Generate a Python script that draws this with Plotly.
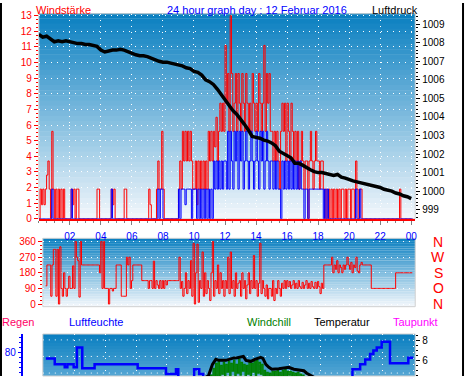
import plotly.graph_objects as go

# ---------------- data ----------------
# wind gust (red) and average (blue), 5-minute samples starting 00:00
gust = (
    [0, 1.9, 0.9, 1.9, 0.9, 1.9, 2.8, 3.7, 1.9, 0, 5.6, 1.9] +
    [0, 1.9, 0, 1.9, 0, 1.9, 0, 1.9, 0, 0, 0, 0] +
    [0, 1.9, 0.9, 1.9, 0, 1.9, 1.9, 0, 0, 0, 0, 0] +
    [0, 0, 0, 0, 0, 0, 0, 0, 0, 1.9, 1.9, 0] +
    [0, 0, 0, 0, 0, 0, 0, 0, 1.9, 0.9, 1.9, 0] +
    [0, 0, 0, 0, 0, 0, 1.9, 1.9, 0, 0, 0, 0] +
    [0, 0, 0, 0, 0, 0, 0, 0, 0, 0, 0, 0] +
    [0, 1.9, 0.9, 0, 0, 0, 0, 1.9, 3.7, 1.9, 1.9, 5.6] +
    [1.9, 0, 0, 0, 0, 0, 0, 0, 0, 0, 0, 0] +
    [1.9, 3.7, 1.9, 5.6, 3.7, 5.6, 3.7, 5.6, 3.7, 5.6, 3.7, 1.9] +
    [1.9, 3.7, 0.9, 3.7, 1.9, 3.7, 1.9, 3.7, 1.9, 3.7, 1.9, 5.6] +
    [3.7, 5.6, 3.7, 5.6, 4.6, 6.5, 3.7, 5.6, 7.4, 5.6, 7.4, 5.6] +
    [11.1, 7.4, 9.3, 5.6, 13.0, 9.3, 5.6, 7.4, 9.3, 5.6, 9.3, 7.4] +
    [5.6, 9.3, 7.4, 5.6, 9.3, 7.4, 5.6, 7.4, 5.6, 9.3, 7.4, 5.6] +
    [7.4, 5.6, 9.3, 7.4, 5.6, 7.4, 11.1, 5.6, 9.3, 7.4, 9.3, 5.6] +
    [5.6, 3.7, 5.6, 3.7, 5.6, 3.7, 1.9, 5.6, 7.4, 5.6, 7.4, 3.7] +
    [7.4, 5.6, 3.7, 7.4, 5.6, 3.7, 5.6, 3.7, 5.6, 1.9, 3.7, 5.6] +
    [3.7, 1.9, 3.7, 3.7, 0, 3.7, 5.6, 3.7, 1.9, 3.7, 5.6, 3.7] +
    [3.7, 1.9, 3.7, 3.7, 1.9, 0, 1.9, 0, 1.9, 0, 1.9, 0] +
    [1.9, 0, 1.9, 0, 1.9, 0, 1.9, 1.9, 0, 1.9, 0, 1.9] +
    [1.9, 0, 1.9, 1.9, 0, 3.7, 1.9, 0, 1.9, 1.9, 0, 0] +
    [0, 0, 0, 0, 0, 0, 0, 0, 0, 0, 0, 0] +
    [0, 0, 0, 0, 0, 0, 0, 0, 0, 0, 0, 0] +
    [0, 0, 0, 1.9, 0, 0, 0, 0, 0, 0, 0, 0] + [0, 0]
)
avg = (
    [0, 0, 0, 0, 0, 0, 0, 0, 0, 0, 1.9, 0] +
    [0] * 12 +
    [0, 1.9, 0, 0, 0, 0, 0, 0, 0, 0, 0, 0] +
    [0] * 12 +
    [0, 0, 0, 0, 0, 0, 0, 0, 1.9, 0, 0, 0] +
    [0] * 12 +
    [0] * 12 +
    [0, 0, 0, 0, 0, 0, 0, 0, 1.9, 0, 1.9, 1.9] +
    [0] * 12 +
    [1.9, 0, 1.9, 1.9, 1.9, 0.9, 1.9, 1.9, 1.9, 1.9, 0, 1.9] +
    [1.9, 1.9, 0, 1.9, 0, 1.9, 0, 1.9, 0, 1.9, 0, 1.9] +
    [0, 1.9, 0, 3.7, 1.9, 3.7, 1.9, 3.7, 1.9, 3.7, 1.9, 3.7] +
    [3.7, 1.9, 5.6, 1.9, 5.6, 3.7, 1.9, 5.6, 3.7, 5.6, 1.9, 5.6] +
    [3.7, 5.6, 1.9, 3.7, 5.6, 3.7, 1.9, 3.7, 5.6, 3.7, 1.9, 3.7] +
    [5.6, 3.7, 1.9, 5.6, 3.7, 5.6, 1.9, 3.7, 5.6, 3.7, 1.9, 3.7] +
    [3.7, 1.9, 3.7, 1.9, 3.7, 1.9, 1.9, 0, 3.7, 1.9, 3.7, 1.9] +
    [3.7, 1.9, 3.7, 1.9, 3.7, 1.9, 3.7, 1.9, 3.7, 1.9, 3.7, 1.9] +
    [1.9, 0, 1.9, 1.9, 0, 1.9, 1.9, 1.9, 1.9, 1.9, 1.9, 1.9] +
    [1.9, 1.9, 1.9, 1.9, 0, 1.9, 0, 1.9, 0, 0, 0, 0] +
    [0] * 12 +
    [0, 0, 0, 0, 0, 1.9, 0, 0, 1.9, 0, 0, 0] +
    [0] * 12 + [0] * 12 + [0] * 12 + [0, 0]
)
# pressure (hPa), 15-minute samples starting 00:00
pressure = [
    1008.45, 1008.3, 1008.35, 1008.2, 1008.05, 1008.1, 1008.05, 1008.1,
    1008.05, 1008.0, 1007.95, 1007.95, 1007.9, 1007.9, 1007.85, 1007.8,
    1007.6, 1007.5, 1007.55, 1007.6, 1007.6, 1007.65, 1007.6, 1007.5,
    1007.4, 1007.35, 1007.3, 1007.3, 1007.25, 1007.15, 1007.05, 1007.0,
    1006.95, 1006.95, 1006.9, 1006.85, 1006.8, 1006.75, 1006.65, 1006.6,
    1006.45, 1006.4, 1006.25, 1006.0, 1005.9, 1005.75, 1005.5, 1005.2,
    1004.95, 1004.6, 1004.35, 1004.15, 1003.9, 1003.6, 1003.3, 1002.95,
    1002.9, 1002.85, 1002.75, 1002.7, 1002.6, 1002.45, 1002.15, 1002.05,
    1001.95, 1001.8, 1001.5, 1001.5, 1001.4, 1001.25, 1001.15, 1001.05,
    1001.0, 1001.0, 1000.95, 1000.9, 1000.85, 1000.9, 1000.75, 1000.7,
    1000.6, 1000.55, 1000.5, 1000.45, 1000.4, 1000.35, 1000.3, 1000.25,
    1000.2, 1000.1, 1000.05, 1000.0, 999.9, 999.85, 999.75, 999.7, 999.6,
]
# wind direction (deg), 5-minute samples starting 23:42 of previous day
direction = (
    [None, None, None, None, None, 105, 225, 225, 225, 45, 225, 315] +
    [315, 45, 315, 0, 330, 90, 45, 180, 90, 45, 90, 160] +
    [90, 90, 220, 90, 360, 270, 250, 40, 360, 225, 225, 225] +
    [225, 225, 225, 225, 225, 225, 225, 225, 225, 225, 225, 180] +
    [360, 90, 360, 90, 90, 90, 0, 90, 90, 75, 90, 90] +
    [225, 225, 225, 225, 45, 45, 45, 45, 270, 225, 270, 90] +
    [135, 225, 225, 225, 225, 225, 225, 225, 135, 135, 135, 135] +
    [135, 90, 135, 135, 90, 247, 90, 135, 110, 90, 135, 90] +
    [135, 90, 135, 110, 135, 135, 135, 135, 135, 135, 135, 135] +
    [135, 270, 90, 130, 45, 90, 180, 60, 135, 90, 250, 45] +
    [350, 0, 180, 345, 10, 135, 90, 300, 45, 180, 60, 135] +
    [90, 20, 180, 360, 45, 135, 90, 225, 60, 180, 90, 135] +
    [45, 135, 90, 270, 60, 300, 90, 135, 45, 180, 90, 120] +
    [135, 45, 180, 90, 135, 30, 110, 180, 60, 135, 90, 280] +
    [90, 135, 45, 120, 350, 60, 135, 90, 45, 110, 30, 90] +
    [90, 45, 135, 20, 90, 60, 135, 90, 45, 120, 90, 135] +
    [90, 135, 100, 130, 90, 110, 135, 90, 120, 90, 135, 100] +
    [90, 125, 90, 110, 135, 90, 120, 90, 130, 100, 90, 125] +
    [90, 130, 100, 60, 120, 90, 225, 225, 225, 225, 225, 225] +
    [270, 180, 225, 200, 250, 180, 225, 210, 180, 225, 200, 225] +
    [270, 225, 200, 240, 180, 225, 210, 270, 190, 180, 225, 240] +
    [225, 225, 225, 225, 225, 225, 225, 90, 90, 90, 90, 90] +
    [90] * 12 +
    [90, 90, 180, 180, 180, 180, 180, 180, 180, 180, 180, 180, 180, 180, 180, 180]
)
# humidity (%) step points
hum_hours = [0.13, 0.71, 1.36, 1.53, 1.94, 2.15, 2.5, 3.3, 6.1, 7.94, 8.59, 8.74,
             9.2, 9.77, 10.1, 10.36, 12, 14, 16, 18, 19.5, 20.06, 20.56, 20.89,
             21.21, 21.42, 21.64, 21.96, 22.5, 23.69, 24.01]
humidity = [77, 74, 72.5, 74, 72.5, 82.6, 72, 74, 72, 69, 71.5, 66,
            64, 71.5, 69, 65, 60, 57, 58, 61, 64, 71.5, 74, 76.5,
            79.3, 81, 82.6, 85.6, 74.5, 77.3, 77.3]
# temperature (°C)
temp_hours = [0, 3, 6, 9, 10.3, 10.7, 10.96, 11.18, 11.39, 11.83, 12.04, 12.36,
              12.58, 12.97, 13.14, 13.46, 13.72, 14.09, 14.24, 14.43, 14.63, 14.82,
              15.27, 15.6, 15.92, 16.25, 16.7, 16.9, 17.09, 17.35, 17.6, 18, 20, 22, 24]
temperature = [3.2, 3.0, 3.1, 3.6, 4.1, 4.45, 5.6, 6.1, 6.0, 6.0, 6.1, 6.25,
               6.27, 6.4, 6.0, 5.9, 6.1, 6.3, 6.2, 5.6, 5.3, 5.1,
               5.15, 5.2, 5.3, 5.1, 5.0, 4.95, 4.7, 4.45, 4.2, 3.9, 3.6, 3.4, 3.3]
# windchill (°C), 5-minute samples starting 10:30
windchill = (
    [3.5, 3.2, 4.0, 3.6, 4.5, 3.9] +
    [5.2, 4.1, 5.7, 4.4, 5.9, 4.0, 5.5, 4.6, 5.8, 4.2, 5.6, 4.8] +
    [5.9, 4.3, 5.7, 4.9, 6.0, 4.4, 5.6, 4.7, 6.1, 4.5, 5.8, 4.9] +
    [5.6, 4.2, 5.5, 4.6, 5.8, 4.4, 5.7, 4.8, 5.9, 4.3, 6.0, 4.7] +
    [5.8, 4.6, 5.6, 4.3, 5.0, 4.1, 4.8, 3.9, 4.7, 4.2, 4.9, 4.0] +
    [4.9, 4.3, 5.0, 4.1, 4.8, 4.4, 5.0, 4.2, 5.1, 4.3, 4.9, 4.5] +
    [4.9, 4.2, 4.8, 4.4, 4.7, 4.1, 4.8, 4.3, 4.6, 4.0, 4.5, 4.1] +
    [4.3, 3.8, 4.1, 3.6, 3.9, 3.5]
)
hour_ticks = [2, 4, 6, 8, 10, 12, 14, 16, 18, 20, 22, 24]
hour_labels = ["02", "04", "06", "08", "10", "12", "14", "16", "18", "20", "22", "00"]
dir_ticks = [0, 90, 180, 270, 360]
compass = ["N", "O", "S", "W", "N"]

# ---------------- layout helpers ----------------
W, H = 470, 382


def px(x):
    return x / W


def py(y):
    return 1 - y / H


t5 = [i / 12 for i in range(len(gust))]
tp = [i / 4 for i in range(len(pressure))]
td = [i / 12 - 0.3 for i in range(len(direction))]
tw = [10.5 + i / 12 for i in range(len(windchill))]

FONT = "Liberation Sans, Arial, sans-serif"
RED, BLUE, GREEN = "#ff0000", "#0000ff", "#008000"
DOTS = "1px,5px"

fig = go.Figure()
fig.add_trace(go.Scatter(x=t5, y=gust, mode="lines", line=dict(color=RED, width=1, shape="hv"),
                         xaxis="x", yaxis="y", hoverinfo="skip"))
fig.add_trace(go.Scatter(x=t5, y=avg, mode="lines", line=dict(color=BLUE, width=1, shape="hv"),
                         xaxis="x", yaxis="y", hoverinfo="skip"))
fig.add_trace(go.Scatter(x=tp, y=pressure, mode="lines", line=dict(color="black", width=3.5),
                         xaxis="x", yaxis="y2", hoverinfo="skip"))
fig.add_trace(go.Scatter(x=td, y=direction, mode="lines", line=dict(color=RED, width=1, shape="hv"),
                         xaxis="x2", yaxis="y3", hoverinfo="skip", connectgaps=False))
fig.add_trace(go.Scatter(x=tw, y=windchill, mode="lines", line=dict(color=GREEN, width=1.2, shape="hv"),
                         xaxis="x3", yaxis="y4", hoverinfo="skip"))
fig.add_trace(go.Scatter(x=temp_hours, y=temperature, mode="lines", line=dict(color="black", width=3),
                         xaxis="x3", yaxis="y4", hoverinfo="skip"))
fig.add_trace(go.Scatter(x=hum_hours, y=humidity, mode="lines", line=dict(color=BLUE, width=2.5, shape="hv"),
                         xaxis="x3", yaxis="y5", hoverinfo="skip"))

shapes = []


def mix(c0, c1, t):
    return "rgb(%d,%d,%d)" % tuple(round(a + (b - a) * t) for a, b in zip(c0, c1))


def gradient(xref, yref, frac_end, n=40):
    c0, c1 = (8, 126, 192), (244, 248, 252)
    for k in range(n):
        t = (k + 0.5) / n * frac_end
        shapes.append(dict(type="rect", xref=xref, yref=yref, x0=0, x1=1,
                           y0=1 - (k + 1) / n, y1=1 - k / n + 0.002,
                           fillcolor=mix(c0, c1, t), line=dict(width=0), layer="below"))
    shapes.append(dict(type="rect", xref=xref, yref=yref, x0=0, x1=1, y0=0, y1=1,
                       line=dict(color="#d0d0d0", width=1), layer="below"))


gradient("x domain", "y domain", 1.0)
gradient("x2 domain", "y3 domain", 1.0)
gradient("x3 domain", "y4 domain", 0.33, n=14)
for f in (0.86, 0.465, 0.07):
    shapes.append(dict(type="line", xref="x3 domain", yref="y4 domain", x0=0, x1=1, y0=f, y1=f,
                       line=dict(color="white", width=1, dash=DOTS), layer="below"))
# outer frame
shapes.append(dict(type="line", xref="paper", yref="paper", x0=px(1), x1=px(1), y0=0, y1=1,
                   line=dict(color="black", width=2)))
shapes.append(dict(type="line", xref="paper", yref="paper", x0=px(465), x1=px(465), y0=0, y1=1,
                   line=dict(color="black", width=2)))

ann = []


def text(s, x, y, color, size=11, xanchor="left", yref="paper"):
    ann.append(dict(text=s, x=x, y=y, xref="paper", yref=yref, xanchor=xanchor, yanchor="middle",
                    showarrow=False, font=dict(color=color, size=size, family=FONT)))


text("Windstärke", px(34), py(7), RED)
text("24 hour graph day : 12 Februar 2016", px(258), py(7), BLUE, xanchor="center")
text("Luftdruck", px(372), py(7), "black")
for v, c in zip(dir_ticks, compass):
    text(c, px(440), v, RED, size=14, xanchor="center", yref="y3")
text("Regen", px(0), py(327), "#ff0066")
text("Luftfeuchte", px(67), py(327), BLUE)
text("Windchill", px(246), py(327), GREEN)
text("Temperatur", px(313), py(327), "black")
text("Taupunkt", px(393), py(327), "#ff00ff")

grid = dict(showgrid=True, gridcolor="white", griddash=DOTS, gridwidth=1, zeroline=False)

fig.update_layout(
    width=W, height=H, margin=dict(l=0, r=0, t=0, b=0), autosize=False,
    paper_bgcolor="white", plot_bgcolor="rgba(0,0,0,0)", showlegend=False,
    font=dict(family=FONT),
    shapes=shapes, annotations=ann,
    xaxis=dict(domain=[px(39), px(417)], range=[0, 24.26], anchor="y",
               tickmode="array", tickvals=hour_ticks, ticktext=hour_labels,
               ticks="outside", ticklen=4, tickcolor="#808080", ticklabelstandoff=3,
               tickfont=dict(color=BLUE, size=10),
               showline=True, linecolor=RED, linewidth=1.5,
               minor=dict(dtick=0.5, tick0=0, ticks="outside", ticklen=2, tickcolor="#808080", showgrid=False),
               **grid),
    yaxis=dict(domain=[py(221), py(11)], range=[0, 13.125], anchor="x",
               dtick=1, tick0=0, ticks="outside", ticklen=4, tickcolor=RED,
               tickfont=dict(color=RED, size=10),
               minor=dict(dtick=0.25, ticks="outside", ticklen=2, tickcolor=RED, showgrid=False),
               **grid),
    yaxis2=dict(overlaying="y", side="right", anchor="x", range=[998.51, 1009.56],
                dtick=1, tick0=0, ticks="outside", ticklen=4, tickcolor="black",
                tickfont=dict(color="black", size=10), showgrid=False, zeroline=False,
                minor=dict(dtick=0.2, ticks="outside", ticklen=2, tickcolor="black", showgrid=False)),
    xaxis2=dict(domain=[px(43), px(417)], range=[-0.065, 24.14], anchor="y3",
                showticklabels=False, ticks="", showgrid=False, zeroline=False),
    yaxis3=dict(domain=[py(311), py(241)], range=[-15.2, 378.6], anchor="x2",
                tickmode="array", tickvals=dir_ticks, ticks="outside", ticklen=4, tickcolor=RED,
                tickfont=dict(color=RED, size=10),
                minor=dict(dtick=22.5, tick0=0, ticks="outside", ticklen=2, tickcolor=RED, showgrid=False),
                **grid),
    xaxis3=dict(domain=[px(43), px(417)], range=[-0.065, 24.14], anchor="y4",
                tickmode="array", tickvals=hour_ticks, showticklabels=False, ticks="", **grid),
    yaxis4=dict(domain=[0, py(339)], range=[4.42, 8.66], anchor="x3", side="right",
                dtick=2, tick0=0, ticks="outside", ticklen=4, tickcolor="black",
                tickfont=dict(color="black", size=10), showgrid=False, zeroline=False,
                minor=dict(dtick=0.5, ticks="outside", ticklen=2, tickcolor="black", showgrid=False)),
    yaxis5=dict(overlaying="y4", side="left", anchor="free", position=px(22), range=[68, 89.5],
                dtick=20, tick0=0, ticks="outside", ticklen=3, tickcolor=BLUE,
                tickfont=dict(color=BLUE, size=10), showgrid=False, zeroline=False,
                showline=True, linecolor=BLUE, linewidth=2,
                minor=dict(dtick=2.5, ticks="outside", ticklen=2, tickcolor=BLUE, showgrid=False)),
)

fig.write_html("out.html")
